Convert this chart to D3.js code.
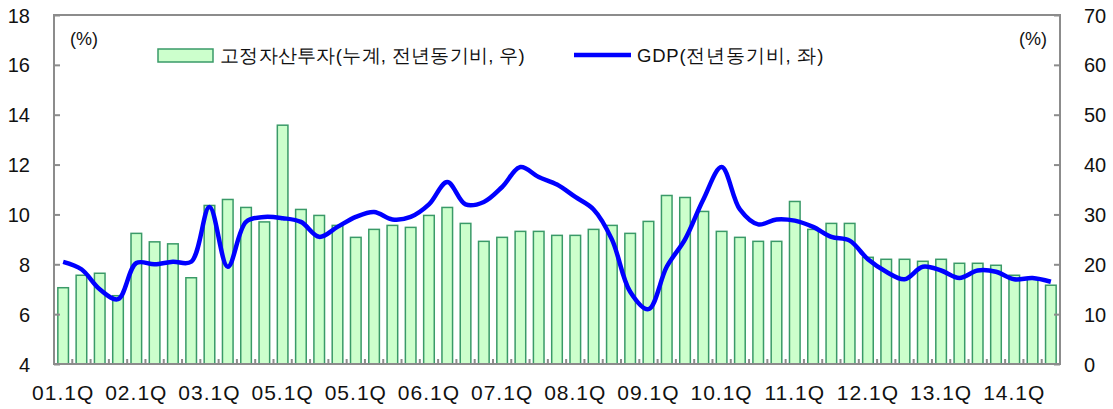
<!DOCTYPE html>
<html>
<head>
<meta charset="utf-8">
<script src="https://cdn.jsdelivr.net/npm/d3@7"></script>
<style>
body { margin: 0; background: #fff; }
text { font-family: "Liberation Sans", Arial, sans-serif; fill: #111; }
</style>
</head>
<body>
<div id="chart"></div>
<script>
// quarters 01.1Q ~ 14.3Q
var quarters = []
for (var yr = 1; yr <= 14; yr++) {
    for (var q = 1; q <= 4; q++) {
        if (yr == 14 && q == 4) break;
        quarters.push((yr < 10 ? "0" + yr : "" + yr) + "." + q + "Q")
    }
}
// labels as printed in the original (05.1Q appears twice)
var tickLabels = ["01.1Q","02.1Q","03.1Q","05.1Q","05.1Q","06.1Q","07.1Q","08.1Q","09.1Q","10.1Q","11.1Q","12.1Q","13.1Q","14.1Q"]

// fixed asset investment, cumulative yoy (%), right axis
var investment = [15.3,17.8,18.2,13.7, 26.2,24.5,24.1,17.3, 31.8,33.0,31.4,28.5,
    47.9,31.0,29.8,27.8, 25.4,27.0,27.8,27.4, 29.8,31.4,28.2,24.6,
    25.4,26.6,26.6,25.8, 25.8,27.0,27.8,26.2, 28.6,33.8,33.4,30.6,
    26.6,25.4,24.6,24.6, 32.6,27.0,28.2,28.2, 21.4,21.0,21.0,20.6,
    21.0,20.2,20.2,19.8, 17.8,17.0,15.8]

// GDP yoy (%), left axis
var gdp = [8.1,7.8,7.0,6.6, 8.05,8.0,8.1,8.1, 10.3,7.9,9.7,9.9,
    9.85,9.7,9.1,9.5, 9.9,10.1,9.8,9.9, 10.4,11.3,10.4,10.5,
    11.1,11.9,11.5,11.2, 10.7,10.2,9.0,6.9, 6.2,7.9,9.0,10.6,
    11.9,10.2,9.6,9.8, 9.75,9.5,9.1,8.95, 8.2,7.7,7.4,7.9,
    7.75,7.45,7.75,7.7, 7.4,7.45,7.3]

var width = 1113, height = 409
var margin = { top: 15, right: 53, bottom: 45, left: 54 }

var svg = d3.select("#chart").append("svg")
    .attr("width", width)
    .attr("height", height)

var x = d3.scaleBand()
    .domain(quarters)
    .range([margin.left, width - margin.right])
    .paddingInner(0.42)
    .paddingOuter(0.21)

var yL = d3.scaleLinear().domain([4, 18]).range([height - margin.bottom, margin.top])
var yR = d3.scaleLinear().domain([0, 70]).range([height - margin.bottom, margin.top])

var axisColor = "#8c8c8c"

// bars
svg.selectAll(".bar")
    .data(investment)
    .enter().append("rect")
    .attr("class", "bar")
    .attr("x", function(d, i){ return x(quarters[i]) })
    .attr("y", function(d){ return yR(d) })
    .attr("width", x.bandwidth())
    .attr("height", function(d){ return yR(0) - yR(d) })
    .attr("fill", "#ccffcc")
    .attr("stroke", "#3a9a68")
    .attr("stroke-width", 1.5)

// gdp line
var line = d3.line()
    .curve(d3.curveCatmullRom.alpha(0.5))
    .x(function(d, i){ return x(quarters[i]) + x.bandwidth() / 2 })
    .y(function(d){ return yL(d) })

svg.append("path")
    .attr("d", line(gdp))
    .attr("fill", "none")
    .attr("stroke", "#0000ff")
    .attr("stroke-width", 4.5)
    .attr("stroke-linejoin", "round")

// frame
var x0 = margin.left, x1 = width - margin.right, yTop = margin.top, yBot = height - margin.bottom
svg.append("rect")
    .attr("x", x0).attr("y", yTop)
    .attr("width", x1 - x0).attr("height", yBot - yTop)
    .attr("fill", "none")
    .attr("stroke", axisColor)
    .attr("stroke-width", 2)

// left axis
var leftAxis = svg.append("g")
    .attr("transform", "translate(" + x0 + ",0)")
    .call(d3.axisLeft(yL).tickValues(d3.range(4, 19, 2)).tickSize(-6).tickPadding(24))
leftAxis.select(".domain").remove()
leftAxis.selectAll("line").attr("stroke", axisColor).attr("stroke-width", 2)
leftAxis.selectAll("text").style("font-size", "20px").attr("dy", "0.35em").style("fill", "#111")

// right axis
var rightAxis = svg.append("g")
    .attr("transform", "translate(" + x1 + ",0)")
    .call(d3.axisRight(yR).tickValues(d3.range(0, 71, 10)).tickSize(-6).tickPadding(24))
rightAxis.select(".domain").remove()
rightAxis.selectAll("line").attr("stroke", axisColor).attr("stroke-width", 2)
rightAxis.selectAll("text").style("font-size", "20px").attr("dy", "0.35em").style("fill", "#111")

// bottom ticks between quarters
var step = x.step()
svg.selectAll(".qtick")
    .data(quarters.slice(1))
    .enter().append("line")
    .attr("x1", function(d, i){ return x0 + step * (i + 1) })
    .attr("x2", function(d, i){ return x0 + step * (i + 1) })
    .attr("y1", yBot)
    .attr("y2", yBot - 5)
    .attr("stroke", axisColor)
    .attr("stroke-width", 2)

// x labels
svg.selectAll(".xlab")
    .data(tickLabels)
    .enter().append("text")
    .attr("x", function(d, i){ return x(quarters[i * 4]) + x.bandwidth() / 2 })
    .attr("y", 400)
    .attr("text-anchor", "middle")
    .style("font-size", "21px")
    .style("letter-spacing", "1px")
    .text(function(d){ return d })

// unit labels
svg.append("text").attr("x", 70).attr("y", 45).style("font-size", "18px").text("(%)")
svg.append("text").attr("x", 1047).attr("y", 45).attr("text-anchor", "end").style("font-size", "18px").text("(%)")

// legend
svg.append("rect")
    .attr("x", 158).attr("y", 49).attr("width", 55).attr("height", 13)
    .attr("fill", "#ccffcc").attr("stroke", "#3a9a68").attr("stroke-width", 1.5)
svg.append("text").attr("x", 220).attr("y", 62).style("font-size", "18.5px").style("letter-spacing", "0.3px")
    .text("고정자산투자(누계, 전년동기비, 우)")
svg.append("line")
    .attr("x1", 574).attr("x2", 631).attr("y1", 55).attr("y2", 55)
    .attr("stroke", "#0000ff").attr("stroke-width", 4.5)
svg.append("text").attr("x", 637).attr("y", 62).style("font-size", "18.5px").style("letter-spacing", "0.8px")
    .text("GDP(전년동기비, 좌)")
</script>
</body>
</html>
